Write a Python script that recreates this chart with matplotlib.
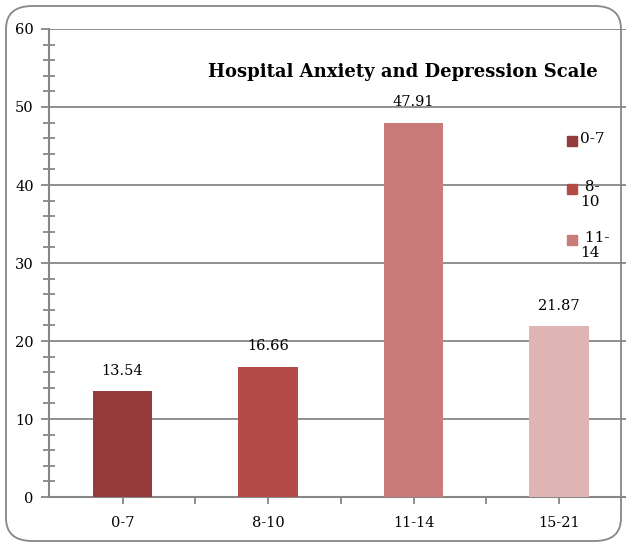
import matplotlib
matplotlib.use("Agg")
import matplotlib.pyplot as plt
from matplotlib.patches import FancyBboxPatch, Rectangle
from matplotlib.ticker import MultipleLocator, FixedLocator

# data
categories = ['0-7', '8-10', '11-14', '15-21']
values = [13.54, 16.66, 47.91, 21.87]
colors = ['#953b3b', '#b34b48', '#c97b7a', '#dfb4b4']
legend_labels = ['0-7', ' 8-\n10', ' 11-\n14']

plt.rcParams['font.family'] = 'DejaVu Serif'
grey = '#878787'

fig = plt.figure(figsize=(6.26, 5.46), dpi=100)
ax = fig.add_axes([0.0783, 0.0897, 0.9217, 0.8572])

x = range(len(categories))
bars = ax.bar(x, values, width=0.41, color=colors, zorder=3)
ax.bar_label(bars, labels=[f'{v:.2f}' for v in values], padding=10, fontsize=10.5)

ax.set_xlim(-0.505, 3.46)
ax.set_ylim(0, 60)
ax.yaxis.set_major_locator(MultipleLocator(10))
ax.yaxis.set_minor_locator(MultipleLocator(2))
ax.grid(axis='y', which='major', color=grey, lw=1.3, zorder=0)
ax.set_xticks(list(x))
ax.set_xticklabels(categories, fontsize=10.5)
ax.xaxis.set_minor_locator(FixedLocator([0.5, 1.5, 2.5]))
ax.tick_params(axis='x', which='both', direction='out', length=5, width=1.3, color=grey, pad=9)
ax.tick_params(axis='y', which='major', direction='out', length=6, width=1.3, color=grey,
               labelsize=10.5, pad=5)
ax.tick_params(axis='y', which='minor', direction='inout', length=9, width=1.3, color=grey)
for s in ['top', 'right']:
    ax.spines[s].set_visible(False)
for s in ['left', 'bottom']:
    ax.spines[s].set_color(grey)
    ax.spines[s].set_linewidth(1.5)

fig.text(0.644, 0.868, 'Hospital Anxiety and Depression Scale', ha='center', va='center',
         fontsize=13, fontweight='bold')

# legend, drawn by hand like the wrapped excel legend
leg_y = [141, 189, 240]
for i, lab in enumerate(legend_labels):
    yy = 1 - leg_y[i] / 546
    fig.add_artist(Rectangle((567 / 626, yy - 5 / 546), 10 / 626, 10 / 546,
                             transform=fig.transFigure, color=colors[i]))
    fig.text(580 / 626, yy + 9 / 546, lab, ha='left', va='top', fontsize=11, linespacing=1.1)

fig.add_artist(FancyBboxPatch((6 / 626, 5 / 546), 615 / 626, 535 / 546,
                              boxstyle='round,pad=0,rounding_size=0.042',
                              transform=fig.transFigure, fill=False, ec=grey, lw=1.3))

fig.savefig('out.png', dpi=100)
